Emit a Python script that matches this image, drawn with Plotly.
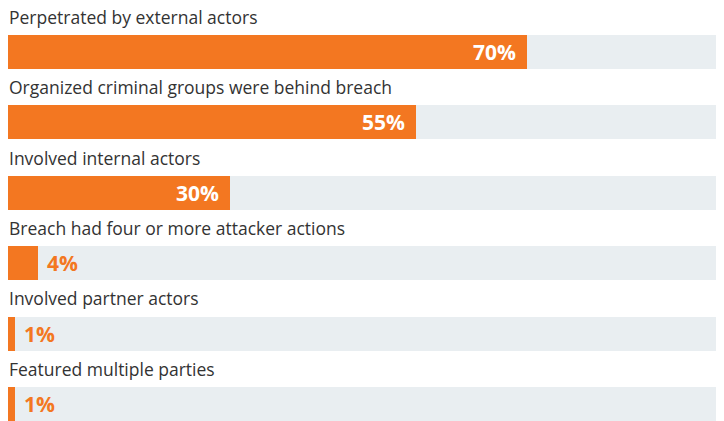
import plotly.graph_objects as go

categories = [
    "Perpetrated by external actors",
    "Organized criminal groups were behind breach",
    "Involved internal actors",
    "Breach had four or more attacker actions",
    "Involved partner actors",
    "Featured multiple parties",
]
values = [70, 55, 30, 4, 1, 1]
value_labels = ["70%", "55%", "30%", "4%", "1%", "1%"]
track_total = 100

ORANGE = "#F37721"
TRACK = "#E9EEF1"
TEXT = "#333333"
FONT = "Open Sans, Roboto, sans-serif"

pos = list(range(len(categories)))

fig = go.Figure()
fig.add_trace(go.Bar(
    y=pos, x=[track_total] * len(pos), orientation="h",
    marker=dict(color=TRACK, line=dict(width=0)), width=0.483,
    hoverinfo="skip", showlegend=False,
))
fig.add_trace(go.Bar(
    y=pos, x=values, orientation="h",
    marker=dict(color=ORANGE, line=dict(width=0)), width=0.483,
    customdata=categories,
    hovertemplate="%{customdata}: %{x}%<extra></extra>",
    showlegend=False,
))

annotations = []
for i, (cat, v, lab) in enumerate(zip(categories, values, value_labels)):
    annotations.append(dict(
        x=0, y=i - 0.5, xref="x", yref="y", text=cat, showarrow=False,
        xanchor="left", yanchor="middle", borderpad=0,
        font=dict(family=FONT, size=17.5, color=TEXT),
    ))
    inside = v >= 20
    annotations.append(dict(
        x=v, y=i, xref="x", yref="y", text="<b>%s</b>" % lab, showarrow=False,
        xanchor="right" if inside else "left", yanchor="middle",
        xshift=-10 if inside else 8, borderpad=0,
        font=dict(family=FONT, size=21, color="white" if inside else ORANGE),
    ))

fig.update_layout(
    width=724, height=421,
    margin=dict(l=0, r=0, t=0, b=0),
    paper_bgcolor="white", plot_bgcolor="white",
    barmode="overlay", bargap=0,
    xaxis=dict(range=[0, 97.7], visible=False, fixedrange=True),
    yaxis=dict(range=[5.355, -0.625], visible=False, fixedrange=True),
    annotations=annotations,
)

fig.write_html("out.html")
